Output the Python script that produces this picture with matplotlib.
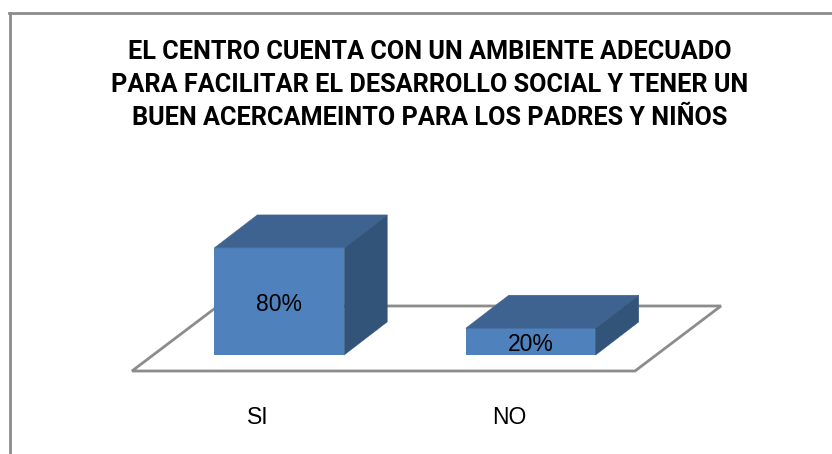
import matplotlib
matplotlib.use("Agg")
import matplotlib.pyplot as plt
from matplotlib.patches import Polygon

categorias = ["SI", "NO"]
valores = [80, 20]
etiquetas = ["80%", "20%"]
titulo = ("EL CENTRO CUENTA CON UN AMBIENTE ADECUADO\n"
          "PARA FACILITAR EL DESARROLLO SOCIAL Y TENER UN\n"
          "BUEN ACERCAMEINTO PARA LOS PADRES Y NIÑOS")

W, H = 832, 454
fig = plt.figure(figsize=(W / 100, H / 100), dpi=100)
plt.rcParams["font.family"] = ["Liberation Sans", "DejaVu Sans"]

# ejes: la linea frontal del piso es el eje x
ax = fig.add_axes([132 / W, (H - 371) / H, 503 / W, 156 / H])
ax.set_xlim(-0.5, 1.5)
ax.set_ylim(-12, 104.6)
ax.patch.set_alpha(0)

# profundidad 3D en unidades de datos
dx = 43 / 251.5
dy = 33 / 1.3375
ancho = 130 / 251.5
base_y = -12
fuera = dict(clip_on=False)

# piso
ax.add_patch(Polygon([(-0.5, base_y), (1.5, base_y), (1.5 + 86 / 251.5, base_y + 65 / 1.3375),
                      (-0.5 + 86 / 251.5, base_y + 65 / 1.3375)],
                     closed=True, facecolor="white", edgecolor="#8c8c8c", lw=2.0, zorder=1, **fuera))

for i, v in enumerate(valores):
    x0 = i + dx / 2 - ancho / 2
    x1 = x0 + ancho
    ax.bar(x0, v, width=ancho, align="edge", color="#4f81bd", zorder=3, clip_on=False)
    ax.add_patch(Polygon([(x0, v), (x1, v), (x1 + dx, v + dy), (x0 + dx, v + dy)],
                         closed=True, facecolor="#3e6390", edgecolor="#3e6390", lw=0.3, zorder=3, **fuera))
    ax.add_patch(Polygon([(x1, 0), (x1 + dx, dy), (x1 + dx, v + dy), (x1, v)],
                         closed=True, facecolor="#325479", edgecolor="#325479", lw=0.3, zorder=3, **fuera))
    ax.text(i + dx / 2, v / 2 - 2.2, etiquetas[i], ha="center", va="center",
            fontsize=16.5, color="black", zorder=4)

ax.set_xticks(range(len(categorias)))
ax.set_xticklabels(categorias, fontsize=16.5, color="black")
ax.tick_params(axis="x", length=0, pad=25)
ax.set_yticks([])
for s in ax.spines.values():
    s.set_visible(False)

fig.text(430 / W, (H - 85) / H, titulo, ha="center", va="center", fontsize=18.2,
         fontweight="bold", family="Roboto", linespacing=1.47, color="black")

# marco de la imagen
fig.add_artist(plt.Line2D([10 / W, 10 / W], [0, (H - 13) / H], color="#8c8c8c", lw=2))
fig.add_artist(plt.Line2D([9 / W, 1], [(H - 13) / H, (H - 13) / H], color="#8c8c8c", lw=2))

fig.savefig("out.png", dpi=100)
